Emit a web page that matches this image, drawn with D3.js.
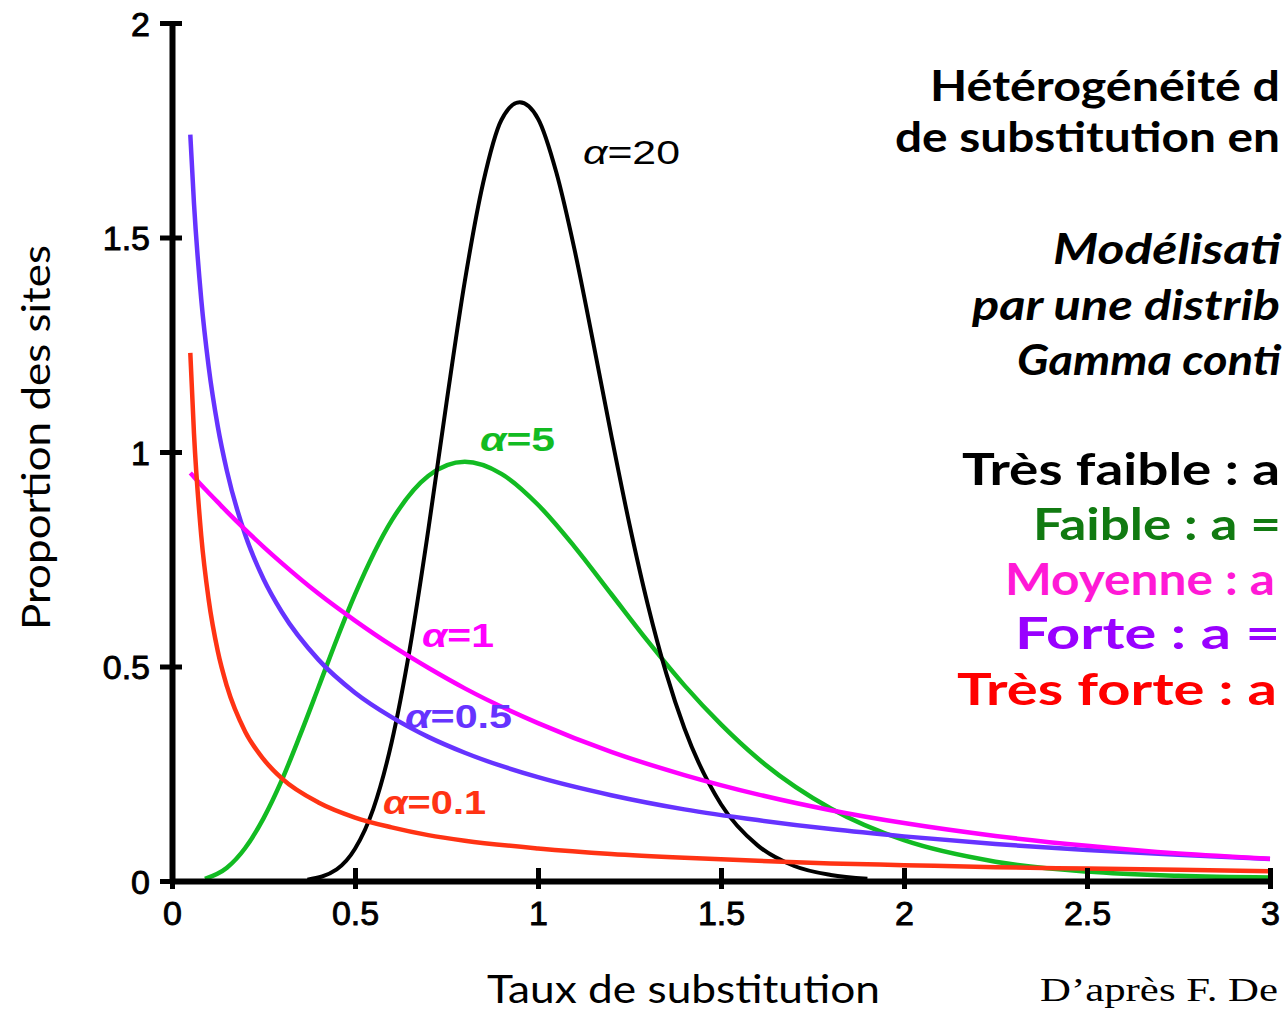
<!DOCTYPE html>
<html>
<head>
<meta charset="utf-8">
<script src="https://cdn.jsdelivr.net/npm/d3@7"></script>
<style>
  body { margin: 0; background: #fff; }
  svg { display: block; overflow: hidden; }
  .axis path, .axis line { stroke: #000; }
  .axis text { font-family: 'Liberation Sans', Arial, sans-serif; fill: #000; stroke: #000; stroke-width: 0.9px; }
  .comic { font-family: 'Comic Sans MS', 'Lato', sans-serif; }
</style>
</head>
<body>
<svg class="gamma-chart"></svg>
<script>
// values
const xShared = [0.05, 0.06, 0.08, 0.1, 0.125, 0.15, 0.2, 0.25, 0.3, 0.4, 0.5, 0.6, 0.7, 0.8, 1.0, 1.2, 1.4, 1.6, 1.8, 2.0, 2.25, 2.5, 2.75, 3.0];
const yAlpha01 = [1.231, 1.044, 0.804, 0.657, 0.536, 0.454, 0.348, 0.284, 0.239, 0.183, 0.148, 0.125, 0.107, 0.094, 0.076, 0.063, 0.054, 0.047, 0.041, 0.037, 0.032, 0.029, 0.026, 0.023];
const yAlpha05 = [1.740, 1.580, 1.355, 1.200, 1.060, 0.956, 0.807, 0.704, 0.627, 0.516, 0.439, 0.382, 0.336, 0.299, 0.242, 0.200, 0.167, 0.142, 0.121, 0.104, 0.086, 0.072, 0.061, 0.051];
const yAlpha1 = [0.951, 0.942, 0.923, 0.905, 0.883, 0.861, 0.819, 0.779, 0.741, 0.670, 0.607, 0.549, 0.497, 0.449, 0.368, 0.301, 0.247, 0.202, 0.165, 0.135, 0.105, 0.082, 0.064, 0.052];

const xAlpha5 = [0.09, 0.15, 0.2, 0.25, 0.3, 0.35, 0.4, 0.45, 0.5, 0.6, 0.7, 0.8, 0.9, 1.0, 1.1, 1.2, 1.3, 1.4, 1.5, 1.6, 1.8, 2.0, 2.25, 2.5, 2.75, 3.0];
const yAlpha5 = [0.005, 0.031, 0.077, 0.146, 0.235, 0.340, 0.451, 0.563, 0.668, 0.840, 0.944, 0.977, 0.949, 0.877, 0.779, 0.669, 0.559, 0.456, 0.365, 0.286, 0.169, 0.095, 0.045, 0.022, 0.012, 0.008];

const xAlpha20 = [0.37, 0.45, 0.5, 0.55, 0.6, 0.65, 0.7, 0.75, 0.8, 0.85, 0.9, 0.95, 1.0, 1.05, 1.1, 1.15, 1.2, 1.25, 1.3, 1.35, 1.4, 1.5, 1.6, 1.7, 1.8, 1.9];
const yAlpha20 = [0.003, 0.027, 0.075, 0.168, 0.323, 0.543, 0.817, 1.115, 1.398, 1.627, 1.774, 1.815, 1.777, 1.652, 1.471, 1.259, 1.040, 0.831, 0.644, 0.485, 0.356, 0.179, 0.083, 0.035, 0.014, 0.005];

const xTicks = [0, 0.5, 1, 1.5, 2, 2.5, 3];
const xTickLabels = ['0', '0.5', '1', '1.5', '2', '2.5', '3'];
const yTicks = [0, 0.5, 1, 1.5, 2];
const yTickLabels = ['0', '0.5', '1', '1.5', '2'];

// only the part of each line that shows inside the frame
const titleLines = ['Hétérogénéité d', 'de substitution en'];
const modelLines = ['Modélisati', 'par une distrib', 'Gamma conti'];
const legendLines = ['Très faible : a', 'Faible : a =', 'Moyenne : a', 'Forte : a =', 'Très forte : a'];
const sourceLine = 'D’après F. De';

const width = 1284;
const height = 1011;

const svg = d3.select('.gamma-chart')
  .attr('width', width)
  .attr('height', height);

const x = d3.scaleLinear().domain([0, 3]).range([172, 1270]);
const y = d3.scaleLinear().domain([0, 2]).range([881, 23]);

const series = [
  { name: '5', xs: xAlpha5, ys: yAlpha5, colour: '#12bb22', w: 4.5 },
  { name: '20', xs: xAlpha20, ys: yAlpha20, colour: '#000', w: 4 },
  { name: '0.5', xs: xShared, ys: yAlpha05, colour: '#6633ff', w: 4.5 },
  { name: '1', xs: xShared, ys: yAlpha1, colour: '#ff00ff', w: 4.5 },
  { name: '0.1', xs: xShared, ys: yAlpha01, colour: '#ff3314', w: 4.5 },
];

const line = d3.line()
  .x(d => x(d[0]))
  .y(d => y(d[1]))
  .curve(d3.curveMonotoneX);

svg.selectAll('.curve')
  .data(series)
  .enter()
  .append('path')
  .attr('class', 'curve')
  .attr('fill', 'none')
  .attr('stroke', d => d.colour)
  .attr('stroke-width', d => d.w)
  .attr('d', d => line(d.xs.map((v, i) => [v, d.ys[i]])));

// axes
const yAxis = d3.axisLeft(y)
  .tickValues(yTicks)
  .tickFormat((d, i) => yTickLabels[i])
  .tickSizeInner(12)
  .tickSizeOuter(0)
  .tickPadding(10);

const gy = svg.append('g')
  .attr('class', 'y axis')
  .attr('transform', `translate(${x(0)},0)`)
  .call(yAxis);
gy.select('.domain').attr('stroke-width', 6);
gy.selectAll('.tick line').attr('x1', 10).attr('stroke-width', 5);
gy.selectAll('.tick text').style('font-size', '34px').attr('dy', '0.36em');

const xAxis = d3.axisBottom(x)
  .tickValues(xTicks)
  .tickFormat((d, i) => xTickLabels[i])
  .tickSizeInner(8)
  .tickSizeOuter(0)
  .tickPadding(12);

const gx = svg.append('g')
  .attr('class', 'x axis')
  .attr('transform', `translate(0,${y(0)})`)
  .call(xAxis);
gx.select('.domain').attr('stroke-width', 6);
gx.selectAll('.tick line').attr('y1', -13).attr('stroke-width', 5);
gx.selectAll('.tick text').style('font-size', '34px');

// curve labels
const curveLabels = [
  { name: '20', colour: '#000', weight: 'normal', lx: 583, ly: 164, len: 97 },
  { name: '5', colour: '#12bb22', weight: 'bold', lx: 480, ly: 451, len: 75 },
  { name: '1', colour: '#ff00ff', weight: 'bold', lx: 422, ly: 647, len: 72 },
  { name: '0.5', colour: '#6633ff', weight: 'bold', lx: 405, ly: 728, len: 107 },
  { name: '0.1', colour: '#ff3314', weight: 'bold', lx: 383, ly: 814, len: 103 },
];

const lbl = svg.selectAll('.curve-label')
  .data(curveLabels)
  .enter()
  .append('text')
  .attr('class', 'curve-label')
  .attr('x', d => d.lx)
  .attr('y', d => d.ly)
  .attr('fill', d => d.colour)
  .attr('textLength', d => d.len)
  .attr('lengthAdjust', 'spacingAndGlyphs')
  .style('font-family', "'Liberation Sans', Arial, sans-serif")
  .style('font-size', '34px')
  .style('font-weight', d => d.weight);
lbl.append('tspan').style('font-style', 'italic').text('α');
lbl.append('tspan').text(d => '=' + d.name);

// axis titles
svg.append('text')
  .attr('class', 'comic')
  .attr('transform', 'translate(50,630) rotate(-90)')
  .attr('textLength', 385)
  .attr('lengthAdjust', 'spacingAndGlyphs')
  .style('font-size', '38px')
  .text('Proportion des sites');

svg.append('text')
  .attr('class', 'comic')
  .attr('x', 487)
  .attr('y', 1003)
  .attr('textLength', 393)
  .attr('lengthAdjust', 'spacingAndGlyphs')
  .style('font-size', '38px')
  .text('Taux de substitution');

svg.append('text')
  .attr('x', 1040)
  .attr('y', 1001)
  .attr('textLength', 238)
  .attr('lengthAdjust', 'spacingAndGlyphs')
  .style('font-family', "'Liberation Serif', 'Times New Roman', serif")
  .style('font-size', '34px')
  .text(sourceLine);

const drawBlock = (lines, cls, xs, ys, lens, size, italic, colours) => {
  svg.selectAll(`.${cls}`)
    .data(lines)
    .enter()
    .append('text')
    .attr('class', `${cls} comic`)
    .attr('x', (d, i) => xs[i])
    .attr('y', (d, i) => ys[i])
    .attr('fill', (d, i) => (colours ? colours[i] : '#000'))
    .attr('textLength', (d, i) => lens[i])
    .attr('lengthAdjust', 'spacingAndGlyphs')
    .style('font-size', `${size}px`)
    .style('font-weight', 'bold')
    .style('font-style', italic ? 'italic' : 'normal')
    .text(d => d);
};

drawBlock(titleLines, 'title-line', [930, 895], [101, 152], [350, 385], 42, false);
drawBlock(modelLines, 'model-line', [1053, 972, 1017], [264, 320, 375], [228, 308, 264], 42, true);
drawBlock(legendLines, 'legend-line',
  [962, 1033, 1005, 1015, 957],
  [485, 540, 595, 649, 705],
  [318, 248, 270, 265, 320],
  44, false,
  ['#000', '#117a11', '#ff19d6', '#9900ff', '#ff0000']);
</script>
</body>
</html>
